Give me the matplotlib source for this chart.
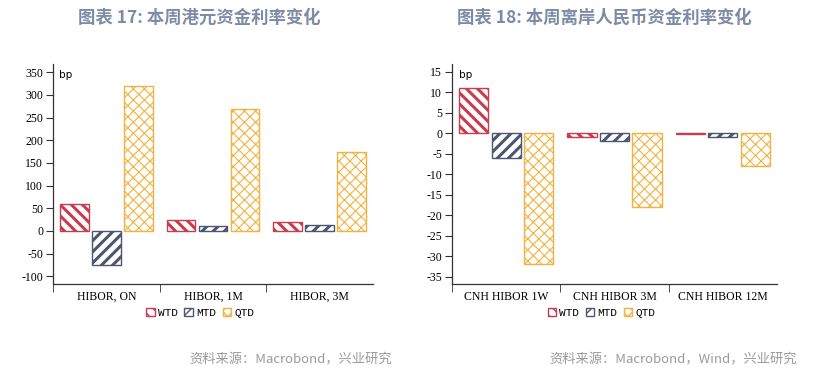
import matplotlib.pyplot as plt
import numpy as np

plt.rcParams['font.family'] = ['Noto Sans CJK SC', 'DejaVu Sans']

series = ['WTD', 'MTD', 'QTD']
colors = ['#c83c4e', '#4b5671', '#f2b23e']
hatches = ['\\\\\\', '///', 'xxx']
hatch_lw = [2.2, 2.2, 0.8]

hk_cats = ['HIBOR, ON', 'HIBOR, 1M', 'HIBOR, 3M']
hk_wtd = [60, 25, 20]
hk_mtd = [-75, 10, 12]
hk_qtd = [320, 268, 173]

cnh_cats = ['CNH HIBOR 1W', 'CNH HIBOR 3M', 'CNH HIBOR 12M']
cnh_wtd = [11, -1, -0.3]
cnh_mtd = [-6, -2, -1]
cnh_qtd = [-32, -18, -8]

title_color = '#7d8ca6'
axis_color = '#333333'
serif = 'Liberation Serif'


def draw(ax, cats, vals, yticks, ylim):
    x = np.arange(len(cats))
    offs = [-0.3, 0.0, 0.3]
    handles = []
    for i, v in enumerate(vals):
        with plt.rc_context({'hatch.linewidth': hatch_lw[i], 'hatch.color': colors[i]}):
            b = ax.bar(x + offs[i], v, width=0.27, facecolor='white', edgecolor=colors[i],
                       hatch=hatches[i], linewidth=1.0, label=series[i])
        handles.append(b)
    ax.set_xlim(-0.5, 2.5)
    ax.set_ylim(*ylim)
    ax.set_yticks(yticks)
    ax.set_yticklabels([str(t) for t in yticks], fontfamily=serif, fontsize=8.5)
    ax.set_xticks(x)
    ax.set_xticklabels(cats, fontfamily=serif, fontsize=8.5)
    ax.set_xticks([-0.5, 0.5, 1.5], minor=True)
    ax.tick_params(axis='x', which='major', length=0, pad=5)
    ax.tick_params(axis='x', which='minor', length=6, direction='out', color=axis_color)
    ax.tick_params(axis='y', length=5, direction='out', color=axis_color, pad=2)
    for s in ['top', 'right']:
        ax.spines[s].set_visible(False)
    for s in ['left', 'bottom']:
        ax.spines[s].set_color(axis_color)
        ax.spines[s].set_linewidth(0.9)
    ax.text(0.02, 0.975, 'bp', transform=ax.transAxes, fontsize=7.5, va='top', ha='left',
            family='DejaVu Sans')
    leg = ax.legend(handles=handles, loc='upper center', bbox_to_anchor=(0.46, -0.065),
                    ncol=3, frameon=False, handlelength=0.75, handleheight=0.75,
                    handletextpad=0.3, columnspacing=0.6,
                    prop={'family': 'Liberation Mono', 'size': 8})
    return leg


fig = plt.figure(figsize=(8.23, 3.73), dpi=100)
ax1 = fig.add_axes([53 / 823, 1 - 284 / 373, 320 / 823, 220 / 373])
ax2 = fig.add_axes([452 / 823, 1 - 284 / 373, 325 / 823, 220 / 373])

draw(ax1, hk_cats, [hk_wtd, hk_mtd, hk_qtd], list(range(-100, 351, 50)), (-117, 368))
draw(ax2, cnh_cats, [cnh_wtd, cnh_mtd, cnh_qtd], list(range(-35, 16, 5)), (-36.8, 16.9))

fig.text(199 / 823, 1 - 18 / 373, '图表 17: 本周港元资金利率变化', ha='center', va='center',
         fontsize=12.5, fontweight='bold', color=title_color)
fig.text(604 / 823, 1 - 18 / 373, '图表 18: 本周离岸人民币资金利率变化', ha='center', va='center',
         fontsize=12.5, fontweight='bold', color=title_color)
fig.text(392 / 823, 1 - 360 / 373, '资料来源：Macrobond，兴业研究', ha='right', va='center',
         fontsize=9.5, color='#9a9a9a')
fig.text(797 / 823, 1 - 360 / 373, '资料来源：Macrobond，Wind，兴业研究', ha='right', va='center',
         fontsize=9.5, color='#9a9a9a')

fig.savefig('out.png', dpi=100, facecolor='white')
